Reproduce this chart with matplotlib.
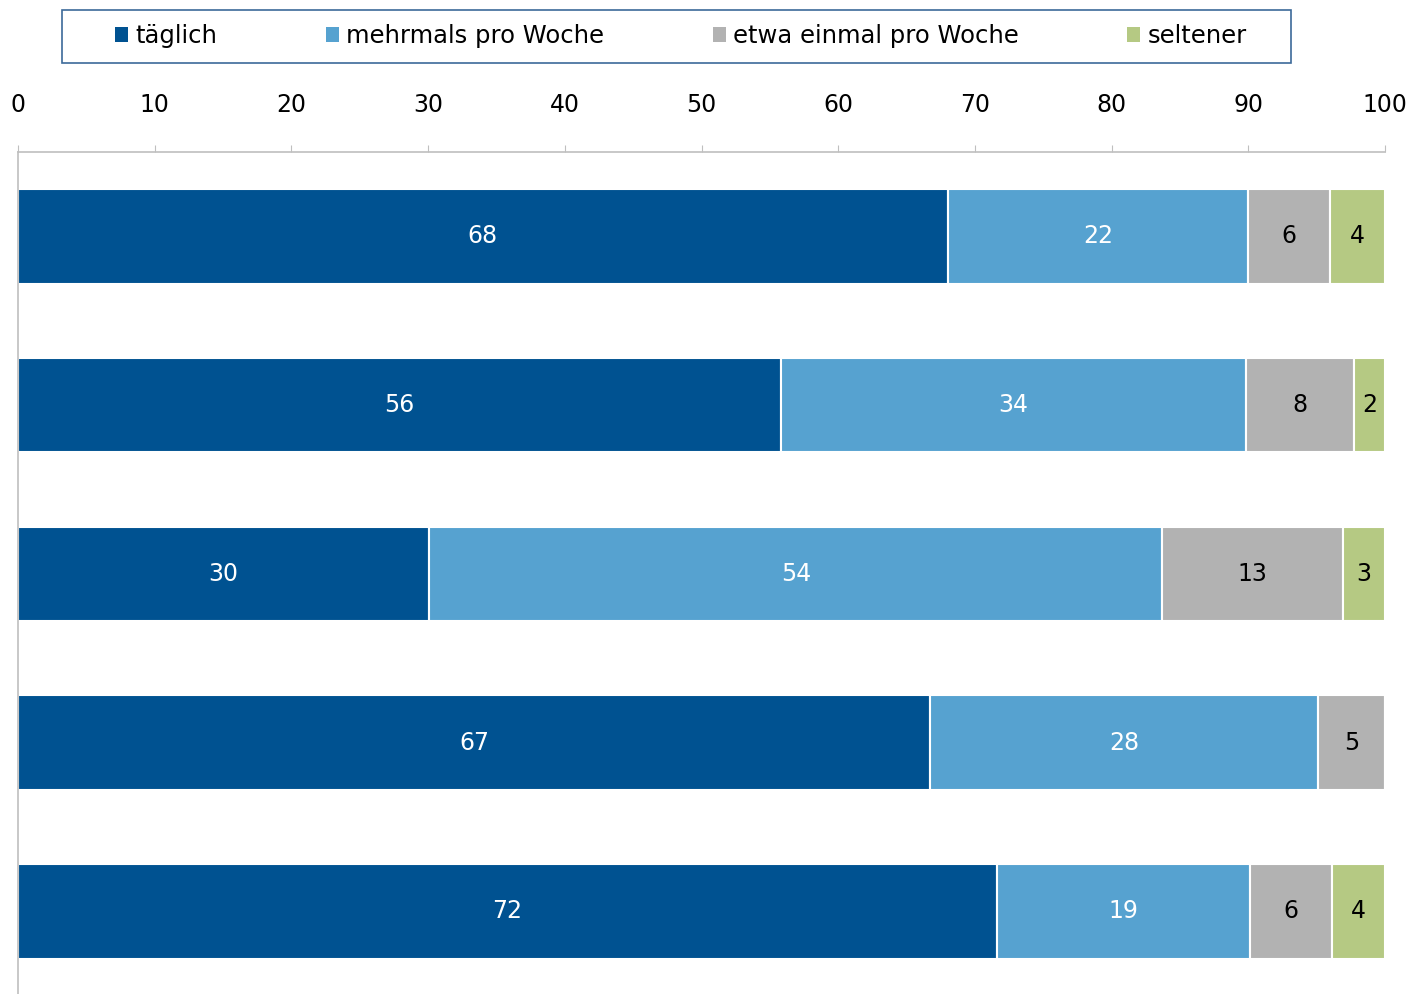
import numpy as np
import matplotlib.pyplot as plt
from matplotlib.patches import Patch, Rectangle

series = ["täglich", "mehrmals pro Woche", "etwa einmal pro Woche", "seltener"]
colors = ["#005291", "#56A2D0", "#B2B2B2", "#B5C983"]
text_colors = ["white", "white", "black", "black"]

# segment widths, rows top to bottom
taeglich = [68.0, 55.8, 30.1, 66.7, 71.6]
mehrmals = [22.0, 34.0, 53.6, 28.4, 18.5]
einmal = [6.0, 7.9, 13.2, 4.9, 6.0]
seltener = [4.0, 2.3, 3.1, 0.0, 3.9]

# printed labels
lab_taeglich = ["68", "56", "30", "67", "72"]
lab_mehrmals = ["22", "34", "54", "28", "19"]
lab_einmal = ["6", "8", "13", "5", "6"]
lab_seltener = ["4", "2", "3", "", "4"]

values = [taeglich, mehrmals, einmal, seltener]
labels = [lab_taeglich, lab_mehrmals, lab_einmal, lab_seltener]

plt.rcParams['font.family'] = ['DejaVu Sans']

W, H = 1414, 994
fig = plt.figure(figsize=(W/100, H/100), dpi=100)
ax = fig.add_axes([18/W, 0.0, (1385-18)/W, 1-152/H])

y = np.arange(len(taeglich))
left = np.zeros(len(taeglich))
for vals, labs, c, tc in zip(values, labels, colors, text_colors):
    vals = np.array(vals)
    ax.barh(y, vals, left=left, height=0.56, color=c, edgecolor="white", linewidth=1.5)
    for yi, (v, l, lab) in enumerate(zip(vals, left, labs)):
        if lab:
            ax.text(l + v/2, yi, lab, ha="center", va="center", color=tc, fontsize=17)
    left += vals

ax.set_xlim(0, 100)
ax.set_ylim(4.49, -0.5)
ax.set_xticks(range(0, 101, 10))
ax.xaxis.tick_top()
ax.tick_params(axis="x", length=5, color="#BFBFBF", pad=20, labelsize=17)
ax.set_yticks([])
for s in ["right", "bottom"]:
    ax.spines[s].set_visible(False)
for s in ["top", "left"]:
    ax.spines[s].set_color("#BFBFBF")
    ax.spines[s].set_linewidth(1.2)

# legend box drawn separately so its padding matches
fig.add_artist(Rectangle((62/W, 1-63/H), (1291-62)/W, 53/H, transform=fig.transFigure,
                         facecolor="white", edgecolor="#3C6A9A", linewidth=1.2))
handles = [Patch(facecolor=c, edgecolor="none") for c in colors]
fig.legend(handles, series, loc="center", bbox_to_anchor=((115+1247)/2/W, 1-36/H),
           ncol=4, frameon=False, fontsize=17.5, handlelength=0.55, handleheight=0.55,
           handletextpad=0.3, columnspacing=4.45, borderpad=0)

fig.savefig("out.png", dpi=100)
